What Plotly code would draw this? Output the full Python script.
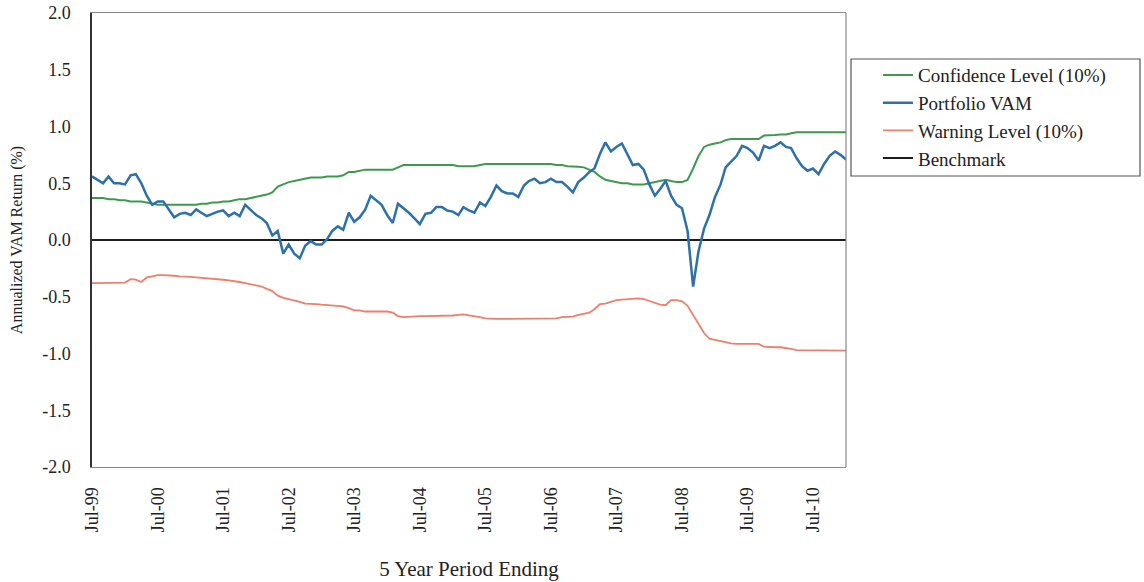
import pandas as pd
import plotly.graph_objects as go

# Monthly periods: Jul-1999 .. Jan-2011
months = pd.date_range("1999-07-01", "2011-01-01", freq="MS")

portfolio_vam = [
    0.56, 0.53, 0.50, 0.56, 0.50, 0.50, 0.49, 0.57, 0.58, 0.50, 0.39, 0.31,
    0.34, 0.34, 0.27, 0.20, 0.23, 0.24, 0.22, 0.27, 0.24, 0.21, 0.23, 0.25,
    0.26, 0.21, 0.24, 0.21, 0.31, 0.27, 0.22, 0.19, 0.15, 0.04, 0.08, -0.12,
    -0.04, -0.12, -0.16, -0.05, -0.01, -0.04, -0.04, 0.01, 0.08, 0.12, 0.09, 0.24,
    0.16, 0.20, 0.27, 0.39, 0.35, 0.31, 0.22, 0.15, 0.32, 0.28, 0.24, 0.19,
    0.14, 0.23, 0.24, 0.29, 0.29, 0.26, 0.25, 0.22, 0.29, 0.26, 0.24, 0.33,
    0.30, 0.38, 0.48, 0.43, 0.41, 0.41, 0.38, 0.48, 0.52, 0.54, 0.50, 0.51,
    0.54, 0.51, 0.51, 0.47, 0.42, 0.51, 0.55, 0.60, 0.63, 0.76, 0.86, 0.78,
    0.82, 0.85, 0.76, 0.66, 0.67, 0.62, 0.49, 0.39, 0.45, 0.52, 0.39, 0.31,
    0.28, 0.08, -0.41, -0.10, 0.10, 0.22, 0.38, 0.49, 0.64, 0.69, 0.74, 0.83,
    0.81, 0.77, 0.70, 0.83, 0.81, 0.83, 0.86, 0.82, 0.81, 0.72, 0.65, 0.61,
    0.63, 0.58, 0.67, 0.74, 0.78, 0.75, 0.71,
]

confidence_level = [
    0.37, 0.37, 0.37, 0.36, 0.36, 0.35, 0.35, 0.34, 0.34, 0.34, 0.33, 0.32,
    0.31, 0.31, 0.31, 0.31, 0.31, 0.31, 0.31, 0.31, 0.32, 0.32, 0.33, 0.33,
    0.34, 0.34, 0.35, 0.36, 0.36, 0.37, 0.38, 0.39, 0.40, 0.42, 0.47, 0.49,
    0.51, 0.52, 0.53, 0.54, 0.55, 0.55, 0.55, 0.56, 0.56, 0.56, 0.57, 0.60,
    0.60, 0.61, 0.62, 0.62, 0.62, 0.62, 0.62, 0.62, 0.64, 0.66, 0.66, 0.66,
    0.66, 0.66, 0.66, 0.66, 0.66, 0.66, 0.66, 0.65, 0.65, 0.65, 0.65, 0.66,
    0.67, 0.67, 0.67, 0.67, 0.67, 0.67, 0.67, 0.67, 0.67, 0.67, 0.67, 0.67,
    0.67, 0.66, 0.66, 0.65, 0.65, 0.645, 0.64, 0.62, 0.60, 0.56, 0.53, 0.52,
    0.51, 0.50, 0.50, 0.49, 0.49, 0.49, 0.50, 0.51, 0.52, 0.53, 0.52, 0.51,
    0.51, 0.53, 0.63, 0.74, 0.82, 0.84, 0.85, 0.86, 0.88, 0.89, 0.89, 0.89,
    0.89, 0.89, 0.89, 0.92, 0.92, 0.925, 0.93, 0.93, 0.94, 0.95, 0.95, 0.95,
    0.95, 0.95, 0.95, 0.95, 0.95, 0.95, 0.95,
]

warning_level = [
    -0.38, -0.38, -0.38, -0.38, -0.375, -0.375, -0.375, -0.345, -0.35, -0.37, -0.33, -0.32,
    -0.31, -0.31, -0.31, -0.315, -0.32, -0.32, -0.325, -0.33, -0.335, -0.34, -0.34, -0.345,
    -0.35, -0.355, -0.36, -0.37, -0.38, -0.39, -0.40, -0.41, -0.43, -0.45, -0.49, -0.51,
    -0.52, -0.53, -0.545, -0.56, -0.56, -0.565, -0.57, -0.575, -0.58, -0.58, -0.585, -0.60,
    -0.62, -0.62, -0.63, -0.63, -0.63, -0.63, -0.63, -0.64, -0.67, -0.68, -0.675, -0.675,
    -0.67, -0.67, -0.67, -0.67, -0.67, -0.665, -0.665, -0.66, -0.655, -0.665, -0.67, -0.68,
    -0.69, -0.695, -0.695, -0.695, -0.695, -0.695, -0.695, -0.695, -0.695, -0.695, -0.695, -0.695,
    -0.695, -0.69, -0.68, -0.68, -0.675, -0.66, -0.65, -0.64, -0.61, -0.565, -0.56, -0.545,
    -0.53, -0.525, -0.52, -0.515, -0.515, -0.52, -0.535, -0.555, -0.57, -0.575, -0.53, -0.53,
    -0.54, -0.58, -0.66, -0.74, -0.82, -0.87, -0.88, -0.89, -0.905, -0.91, -0.915, -0.915,
    -0.915, -0.915, -0.915, -0.94, -0.945, -0.945, -0.945, -0.95, -0.96, -0.97, -0.97, -0.975,
    -0.97, -0.97, -0.97, -0.97, -0.975, -0.975, -0.975,
]

benchmark = [0.0] * len(months)

tick_dates = pd.date_range("1999-07-01", "2010-07-01", freq="12MS")
tick_labels = ["Jul-99", "Jul-00", "Jul-01", "Jul-02", "Jul-03", "Jul-04",
               "Jul-05", "Jul-06", "Jul-07", "Jul-08", "Jul-09", "Jul-10"]
y_ticks = [2.0, 1.5, 1.0, 0.5, 0.0, -0.5, -1.0, -1.5, -2.0]

FONT = "Liberation Serif"

fig = go.Figure()
fig.add_trace(go.Scatter(x=months, y=benchmark, mode="lines", name="Benchmark",
                         line=dict(color="#1c1c1c", width=2), legendrank=4,
                         legendgroup="d"))
fig.add_trace(go.Scatter(x=months, y=confidence_level, mode="lines",
                         name="Confidence Level (10%)",
                         line=dict(color="#3c9a4e", width=2), legendrank=1,
                         legendgroup="a"))
fig.add_trace(go.Scatter(x=months, y=warning_level, mode="lines",
                         name="Warning Level (10%)",
                         line=dict(color="#ee7f6c", width=1.8), legendrank=3,
                         legendgroup="c"))
fig.add_trace(go.Scatter(x=months, y=portfolio_vam, mode="lines",
                         name="Portfolio VAM",
                         line=dict(color="#2d70aa", width=2.5), legendrank=2,
                         legendgroup="b"))

fig.update_layout(
    width=1144, height=582,
    margin=dict(l=92, r=298, t=13, b=115, autoexpand=False),
    paper_bgcolor="white", plot_bgcolor="white",
    font=dict(family=FONT, size=15, color="#222"),
    showlegend=True,
    legend=dict(x=1.0424, y=0.905, xanchor="left", yanchor="top",
                borderwidth=0, bgcolor="rgba(0,0,0,0)",
                font=dict(family=FONT, size=19, color="#222"),
                tracegroupgap=12, traceorder="normal"),
    xaxis=dict(
        range=[months[0], months[-1]], automargin=False,
        tickmode="array", tickvals=tick_dates, ticktext=tick_labels,
        tickangle=-90, tickfont=dict(family=FONT, size=18),
        showgrid=False, zeroline=False,
        showline=True, linecolor="#888", linewidth=1.2, mirror=True,
        ticks="", ticklabelstandoff=12,
        title=dict(text="5 Year Period Ending", standoff=30,
                   font=dict(family=FONT, size=21)),
    ),
    yaxis=dict(
        range=[-2, 2], automargin=False,
        tickmode="array", tickvals=y_ticks,
        ticktext=[f"{v:.1f}" for v in y_ticks],
        tickfont=dict(family=FONT, size=18),
        showgrid=False, zeroline=False,
        showline=True, linecolor="#333", linewidth=1.5, mirror=False,
        ticks="", ticklabelstandoff=16,
        title=dict(text="Annualized VAM Return (%)", standoff=16,
                   font=dict(family=FONT, size=16)),
    ),
)

# right border of plot frame (gray)
fig.add_shape(type="line", xref="paper", yref="paper", x0=1, x1=1, y0=0, y1=1,
              line=dict(color="#888", width=1.2))
# legend frame
fig.add_shape(type="rect", xref="paper", yref="paper",
              x0=(851 - 92) / 754, x1=(1140 - 92) / 754,
              y0=(467 - 176) / 454, y1=(467 - 59) / 454,
              line=dict(color="#555", width=1.2))

# remove default page margin so the figure fills the window exactly
fig.write_html("out.html",
               config={"displayModeBar": False},
               post_script="document.body.style.margin='0';"
                           "document.body.style.overflow='hidden';")
